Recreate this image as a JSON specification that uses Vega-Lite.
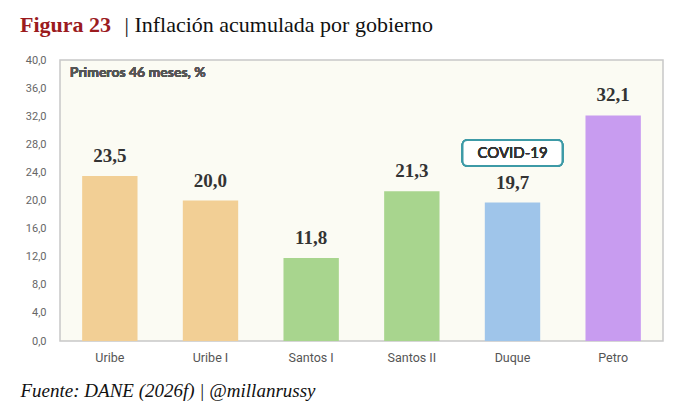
{
  "$schema": "https://vega.github.io/schema/vega-lite/v6.json",
  "width": 603,
  "height": 281,
  "autosize": "none",
  "padding": {"left": 60, "top": 60, "right": 17, "bottom": 73},
  "background": "white",
  "config": {
    "locale": {"number": {"decimal": ",", "thousands": ".", "grouping": [3], "currency": ["$", ""]}},
    "view": {"fill": "#fbfbf3", "stroke": "#c8c8c8", "strokeWidth": 1.5}
  },
  "title": {
    "text": "Figura 23",
    "subtitle": "\u200b\u00a0\u00a0\u00a0\u00a0\u00a0\u00a0\u00a0\u00a0\u00a0\u00a0\u00a0\u00a0\u00a0\u00a0\u00a0\u00a0\u00a0\u00a0\u00a0| Inflación acumulada por gobierno",
    "anchor": "start",
    "frame": "group",
    "dx": -40,
    "offset": 17,
    "font": "Liberation Serif",
    "fontSize": 22,
    "fontWeight": "bold",
    "color": "#9b1b1e",
    "subtitleFont": "Liberation Serif",
    "subtitleFontSize": 22,
    "subtitleColor": "#111111",
    "subtitlePadding": -22
  },
  "data": {
    "values": [
      {"gobierno": "Uribe", "valor": 23.5, "color": "#f2cf95"},
      {"gobierno": "Uribe I", "valor": 20.0, "color": "#f2cf95"},
      {"gobierno": "Santos I", "valor": 11.8, "color": "#a8d58e"},
      {"gobierno": "Santos II", "valor": 21.3, "color": "#a8d58e"},
      {"gobierno": "Duque", "valor": 19.7, "color": "#9fc5ea"},
      {"gobierno": "Petro", "valor": 32.1, "color": "#c89cf0"}
    ]
  },
  "encoding": {
    "x": {
      "field": "gobierno",
      "type": "nominal",
      "sort": null,
      "scale": {"paddingInner": 0.45, "paddingOuter": 0.22},
      "axis": {
        "labelAngle": 0,
        "labelFont": "Roboto",
        "labelFontSize": 12.5,
        "labelColor": "#555555",
        "labelPadding": 10,
        "domain": false,
        "ticks": false,
        "title": "Fuente: DANE (2026f) | @millanrussy",
        "titleFont": "Liberation Serif",
        "titleFontSize": 19,
        "titleFontWeight": "normal",
        "titleFontStyle": "italic",
        "titleColor": "#111111",
        "titleAnchor": "start",
        "titleAlign": "left",
        "titleX": -40,
        "titleY": 40
      }
    },
    "y": {
      "field": "valor",
      "type": "quantitative",
      "scale": {"domain": [0, 40]},
      "axis": {
        "values": [0, 4, 8, 12, 16, 20, 24, 28, 32, 36, 40],
        "format": ".1f",
        "title": null,
        "grid": false,
        "domain": false,
        "ticks": false,
        "labelFont": "Roboto",
        "labelFontSize": 11,
        "labelColor": "#666666",
        "labelPadding": 14
      }
    }
  },
  "layer": [
    {
      "mark": {"type": "bar"},
      "encoding": {"color": {"field": "color", "type": "nominal", "scale": null}}
    },
    {
      "mark": {"type": "text", "dy": -20, "font": "Liberation Serif", "fontSize": 19, "fontWeight": "bold", "color": "#333333"},
      "encoding": {"text": {"field": "valor", "type": "quantitative", "format": ".1f"}}
    },
    {
      "mark": {"type": "text", "align": "left", "dx": -40, "font": "Lato", "fontSize": 14, "fontWeight": "bold", "color": "#555555"},
      "encoding": {"x": {"datum": "Uribe"}, "y": {"datum": 38.1}, "text": {"value": "Primeros 46 meses, %"}}
    },
    {
      "mark": {"type": "rect", "width": 100, "cornerRadius": 5, "fill": "white", "stroke": "#3d9aa6", "strokeWidth": 2},
      "encoding": {"x": {"datum": "Duque"}, "y": {"datum": 24.9}, "y2": {"datum": 28.6}}
    },
    {
      "mark": {"type": "text", "font": "Lato", "fontSize": 15, "color": "#333333"},
      "encoding": {"x": {"datum": "Duque"}, "y": {"datum": 26.75}, "text": {"value": "COVID-19"}}
    }
  ]
}
